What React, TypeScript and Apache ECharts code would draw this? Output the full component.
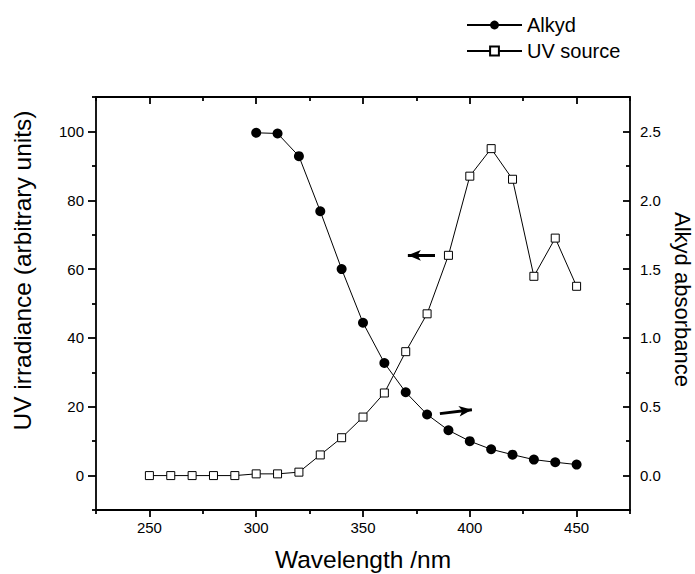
import React, { useEffect, useRef } from "react";
import * as echarts from "echarts";

// ---- data ----
const uvWavelengths = [250, 260, 270, 280, 290, 300, 310, 320, 330, 340, 350, 360, 370, 380, 390, 400, 410, 420, 430, 440, 450];
const uvIrradiance = [0, 0, 0, 0, 0, 0.5, 0.5, 1.0, 6.0, 11.0, 17.0, 24.0, 36.0, 47.0, 64.0, 87.0, 95.0, 86.1, 57.9, 69.0, 55.0];

const alkydWavelengths = [300, 310, 320, 330, 340, 350, 360, 370, 380, 390, 400, 410, 420, 430, 440, 450];
const alkydAbsorbance = [2.49, 2.485, 2.32, 1.92, 1.5, 1.11, 0.818, 0.605, 0.444, 0.329, 0.25, 0.191, 0.152, 0.116, 0.097, 0.08];

// ---- axes / ticks ----
const xRange = [225, 475];
const xMajorTicks = [250, 300, 350, 400, 450];
const xMinorTicks = [225, 275, 325, 375, 425, 475];
const leftRange = [-10, 110];
const leftMajorTicks = [0, 20, 40, 60, 80, 100];
const leftMinorTicks = [-10, 10, 30, 50, 70, 90, 110];
const rightRange = [-0.25, 2.75];
const rightMajorTicks = [0, 0.5, 1.0, 1.5, 2.0, 2.5];
const rightMinorTicks = [-0.25, 0.25, 0.75, 1.25, 1.75, 2.25, 2.75];

// ---- annotation arrows (data coordinates) ----
const uvArrow = [[383.7, 64], [371.0, 64]];
const alkydArrow = [[386, 0.45], [401, 0.479]];

const legendNames = ["Alkyd", "UV source"];

const FONT = "Liberation Sans, Arial, Helvetica, sans-serif";
const BLACK = "#000";

function buildOption() {
  const line = { show: true, onZero: false, lineStyle: { color: BLACK, width: 1.8 } };
  const noLine = { show: false, onZero: false };
  const tickStyle = { color: BLACK, width: 1.8 };
  const labelStyle = { fontSize: 15, color: BLACK, fontFamily: FONT };
  const xBase = { type: "value", min: xRange[0], max: xRange[1], splitLine: { show: false } };
  const lBase = { type: "value", min: leftRange[0], max: leftRange[1], splitLine: { show: false } };
  const rBase = { type: "value", min: rightRange[0], max: rightRange[1], splitLine: { show: false } };
  const ticks = (values: number[], length: number, inside: boolean) => ({
    show: true,
    inside,
    length,
    customValues: values,
    lineStyle: tickStyle,
  });

  return {
    animation: false,
    backgroundColor: "#fff",
    textStyle: { fontFamily: FONT, color: BLACK },
    legend: {
      data: legendNames,
      orient: "vertical",
      left: 461,
      top: 10,
      itemWidth: 55,
      itemHeight: 11,
      itemGap: 6,
      textStyle: { fontSize: 20, color: BLACK, fontFamily: FONT },
      selectedMode: false,
    },
    grid: { left: 96, right: 65, top: 97, bottom: 64, containLabel: false, outerBoundsMode: "none" },
    xAxis: [
      {
        ...xBase,
        position: "bottom",
        axisLine: line,
        axisTick: ticks(xMajorTicks, 7, false),
        axisLabel: { show: true, customValues: xMajorTicks, margin: 10, ...labelStyle },
        name: "Wavelength /nm",
        nameLocation: "middle",
        nameGap: 37,
        nameTextStyle: { fontSize: 24.5, color: BLACK, fontFamily: FONT },
      },
      {
        ...xBase,
        position: "bottom",
        axisLine: noLine,
        axisTick: ticks(xMinorTicks, 4, false),
        axisLabel: { show: false },
      },
      {
        ...xBase,
        position: "top",
        axisLine: line,
        axisTick: ticks(xMajorTicks, 7, true),
        axisLabel: { show: false },
      },
      {
        ...xBase,
        position: "top",
        axisLine: noLine,
        axisTick: ticks(xMinorTicks, 4, true),
        axisLabel: { show: false },
      },
    ],
    yAxis: [
      {
        ...lBase,
        position: "left",
        axisLine: line,
        axisTick: ticks(leftMajorTicks, 8, false),
        axisLabel: { show: true, customValues: leftMajorTicks, margin: 12, ...labelStyle },
        name: "UV irradiance (arbitrary units)",
        nameLocation: "middle",
        nameGap: 61,
        nameTextStyle: { fontSize: 24.5, color: BLACK, fontFamily: FONT, padding: [0, 0, 0, 66] },
      },
      {
        ...lBase,
        position: "left",
        axisLine: noLine,
        axisTick: ticks(leftMinorTicks, 4, false),
        axisLabel: { show: false },
      },
      {
        ...rBase,
        position: "right",
        axisLine: line,
        axisTick: ticks(rightMajorTicks, 7, true),
        axisLabel: {
          show: true,
          customValues: rightMajorTicks,
          margin: 10,
          ...labelStyle,
          formatter: (v: number) => v.toFixed(1),
        },
        name: "Alkyd absorbance",
        nameLocation: "middle",
        nameRotate: -90,
        nameGap: 41,
        nameTextStyle: { fontSize: 22, color: BLACK, fontFamily: FONT, padding: [0, 8, 0, 0] },
      },
      {
        ...rBase,
        position: "right",
        axisLine: noLine,
        axisTick: ticks(rightMinorTicks, 4, true),
        axisLabel: { show: false },
      },
    ],
    series: [
      {
        name: "Alkyd",
        type: "line",
        xAxisIndex: 0,
        yAxisIndex: 2,
        data: alkydWavelengths.map((w, i) => [w, alkydAbsorbance[i]]),
        symbol: "circle",
        symbolSize: 10,
        showAllSymbol: true,
        itemStyle: { color: BLACK },
        lineStyle: { color: BLACK, width: 1 },
        z: 2,
        markLine: {
          silent: true,
          symbol: ["none", "arrow"],
          symbolSize: [8, 13],
          label: { show: false },
          lineStyle: { color: BLACK, width: 3, type: "solid" },
          data: [[{ coord: alkydArrow[0] }, { coord: alkydArrow[1] }]],
        },
      },
      {
        name: "UV source",
        type: "line",
        xAxisIndex: 0,
        yAxisIndex: 0,
        data: uvWavelengths.map((w, i) => [w, uvIrradiance[i]]),
        symbol: "rect",
        symbolSize: 8,
        showAllSymbol: true,
        itemStyle: { color: "#fff", borderColor: BLACK, borderWidth: 1 },
        lineStyle: { color: BLACK, width: 1 },
        z: 3,
        markLine: {
          silent: true,
          symbol: ["none", "arrow"],
          symbolSize: [8, 13],
          label: { show: false },
          lineStyle: { color: BLACK, width: 3, type: "solid" },
          data: [[{ coord: uvArrow[0] }, { coord: uvArrow[1] }]],
        },
      },
    ],
  };
}

export default function App() {
  const ref = useRef<HTMLDivElement>(null);
  useEffect(() => {
    if (!ref.current) return;
    const chart = echarts.init(ref.current, undefined, { renderer: "svg" });
    chart.setOption(buildOption() as any);
    return () => chart.dispose();
  }, []);
  return (
    <div
      ref={ref}
      style={{ position: "absolute", left: 0, top: 0, width: 695, height: 574, background: "#fff" }}
    />
  );
}
